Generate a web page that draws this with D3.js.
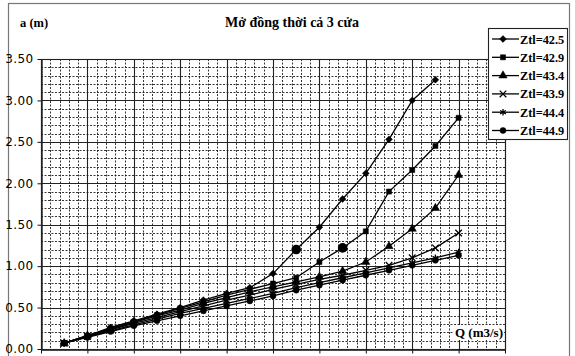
<!DOCTYPE html>
<html>
<head>
<meta charset="utf-8">
<script src="https://cdn.jsdelivr.net/npm/d3@7"></script>
<style>
  html, body { margin: 0; padding: 0; background: #fff; }
  svg { display: block; }
</style>
</head>
<body>
<svg id="chart" width="575" height="356"></svg>
<script>
// ---------------- DATA ----------------
const title = "Mở đồng thời cả 3 cửa";
const yTitle = "a (m)";
const xTitle = "Q (m3/s)";
const categories = [1, 2, 3, 4, 5, 6, 7, 8, 9, 10, 11, 12, 13, 14, 15, 16, 17, 18];
const seriesNames = ["Ztl=42.5", "Ztl=42.9", "Ztl=43.4", "Ztl=43.9", "Ztl=44.4", "Ztl=44.9"];
const ztl425 = [0.07, 0.16, 0.26, 0.34, 0.42, 0.50, 0.59, 0.67, 0.74, 0.91, 1.20, 1.47, 1.81, 2.12, 2.53, 3.00, 3.25];
const ztl429 = [0.07, 0.16, 0.25, 0.33, 0.41, 0.49, 0.57, 0.65, 0.72, 0.79, 0.86, 1.05, 1.22, 1.42, 1.90, 2.16, 2.45, 2.79];
const ztl434 = [0.07, 0.16, 0.24, 0.32, 0.40, 0.47, 0.55, 0.62, 0.69, 0.75, 0.81, 0.87, 0.94, 1.05, 1.24, 1.45, 1.70, 2.10];
const ztl439 = [0.07, 0.15, 0.23, 0.31, 0.38, 0.45, 0.52, 0.59, 0.65, 0.72, 0.78, 0.84, 0.89, 0.95, 1.01, 1.10, 1.22, 1.40];
const ztl444 = [0.07, 0.15, 0.22, 0.29, 0.36, 0.43, 0.49, 0.55, 0.61, 0.67, 0.74, 0.80, 0.86, 0.92, 0.98, 1.04, 1.10, 1.17];
const ztl449 = [0.07, 0.14, 0.21, 0.28, 0.34, 0.40, 0.46, 0.52, 0.58, 0.64, 0.71, 0.77, 0.83, 0.89, 0.95, 1.01, 1.07, 1.13];
const yTicks = [0, 0.5, 1.0, 1.5, 2.0, 2.5, 3.0, 3.5];
const xDomain = [0, 20];

// ---------------- STYLE ----------------
const seriesValues = [ztl425, ztl429, ztl434, ztl439, ztl444, ztl449];
const symbolTypes = [d3.symbolDiamond2, d3.symbolSquare, d3.symbolTriangle, d3.symbolTimes, d3.symbolAsterisk, d3.symbolCircle];
const symbolSizes = [30, 26, 30, 30, 30, 28];
const strokeSymbol = [false, false, false, true, true, false];
// points that appear as enlarged round blobs in the picture (series index, category)
const bigMarkers = [[0, 11], [1, 13]];

const svg = d3.select("#chart");
const W = 575, H = 356;
const plot = { left: 41, right: 505, top: 59, bottom: 349 };

const x = d3.scaleLinear().domain(xDomain).range([plot.left, plot.right]);
const y = d3.scaleLinear().domain([0, 3.5]).range([plot.bottom, plot.top]);

svg.append("rect").attr("width", W).attr("height", H).attr("fill", "#fff");
// outer chart frame
svg.append("rect").attr("x", 8.5).attr("y", 3.5).attr("width", 561).attr("height", 360)
  .attr("fill", "none").attr("stroke", "#777").attr("stroke-width", 1.2);

// plot background
svg.append("rect").attr("x", plot.left).attr("y", plot.top)
  .attr("width", plot.right - plot.left).attr("height", plot.bottom - plot.top).attr("fill", "#fff");

// minor grid
const gMinor = svg.append("g");
const xMinor = d3.range(xDomain[0], xDomain[1] + 0.001, 0.4).filter(v => Math.abs(v / 2 - Math.round(v / 2)) > 0.01);
const yMinor = d3.range(0, 3.5001, 0.1).filter(v => Math.abs(v / 0.5 - Math.round(v / 0.5)) > 0.01);
gMinor.selectAll("line.xm").data(xMinor).join("line")
  .attr("x1", d => Math.round(x(d)) + 0.5).attr("x2", d => Math.round(x(d)) + 0.5)
  .attr("y1", plot.top).attr("y2", plot.bottom)
  .attr("stroke", "#111").attr("stroke-width", 0.85).attr("stroke-dasharray", "2,1.5");
gMinor.selectAll("line.ym").data(yMinor).join("line")
  .attr("y1", d => Math.round(y(d)) + 0.5).attr("y2", d => Math.round(y(d)) + 0.5)
  .attr("x1", plot.left).attr("x2", plot.right)
  .attr("stroke", "#111").attr("stroke-width", 0.85).attr("stroke-dasharray", "2,1.5");

// major grid
const gMajor = svg.append("g");
const xMajor = d3.range(xDomain[0], xDomain[1] + 0.001, 2);
gMajor.selectAll("line.xM").data(xMajor).join("line")
  .attr("x1", d => Math.round(x(d)) + 0.5).attr("x2", d => Math.round(x(d)) + 0.5)
  .attr("y1", plot.top).attr("y2", plot.bottom)
  .attr("stroke", "#222").attr("stroke-width", 1.1);
gMajor.selectAll("line.yM").data(yTicks).join("line")
  .attr("y1", d => Math.round(y(d)) + 0.5).attr("y2", d => Math.round(y(d)) + 0.5)
  .attr("x1", plot.left).attr("x2", plot.right)
  .attr("stroke", "#222").attr("stroke-width", 1.1);

// axes
const yAxis = d3.axisLeft(y).tickValues(yTicks).tickFormat(d3.format(".2f")).tickSizeInner(4).tickSizeOuter(0).tickPadding(5);
const gy = svg.append("g").attr("transform", `translate(${plot.left + 0.5},0)`).call(yAxis);
gy.select(".domain").attr("stroke", "#111").attr("stroke-width", 1.3);
gy.selectAll(".tick line").attr("stroke", "#111");
gy.selectAll(".tick text").attr("font-family", "DejaVu Sans, sans-serif").attr("font-size", 12)
  .attr("fill", "#000").attr("x", -8).attr("letter-spacing", 0.4);

const xAxis = d3.axisBottom(x).tickValues(xMajor).tickFormat("").tickSizeInner(4).tickSizeOuter(0);
const gx = svg.append("g").attr("transform", `translate(0,${plot.bottom + 0.5})`).call(xAxis);
gx.select(".domain").attr("stroke", "#111").attr("stroke-width", 1.3);
gx.selectAll(".tick line").attr("stroke", "#111");

// series
const line = d3.line().x((d, i) => x(categories[i])).y(d => y(d));
const gSeries = svg.append("g");
seriesValues.forEach((vals, s) => {
  gSeries.append("path").datum(vals).attr("d", line)
    .attr("fill", "none").attr("stroke", "#000").attr("stroke-width", 1.3);
});
seriesValues.forEach((vals, s) => {
  const sym = d3.symbol().type(symbolTypes[s]).size(symbolSizes[s]);
  gSeries.append("g").selectAll("path").data(vals).join("path")
    .attr("transform", (d, i) => `translate(${x(categories[i])},${y(d)})`)
    .attr("d", sym())
    .attr("fill", strokeSymbol[s] ? "none" : "#000")
    .attr("stroke", "#000").attr("stroke-width", strokeSymbol[s] ? 1.3 : 0.5);
});
bigMarkers.forEach(([s, cat]) => {
  const i = categories.indexOf(cat);
  gSeries.append("circle").attr("cx", x(cat)).attr("cy", y(seriesValues[s][i])).attr("r", 4.8).attr("fill", "#000");
});

// plot top/right border
svg.append("rect").attr("x", plot.left + 0.5).attr("y", plot.top + 0.5)
  .attr("width", plot.right - plot.left).attr("height", plot.bottom - plot.top)
  .attr("fill", "none").attr("stroke", "#222").attr("stroke-width", 1.1);

// texts
svg.append("text").attr("x", 292).attr("y", 27).attr("text-anchor", "middle")
  .attr("font-family", "Liberation Serif, serif").attr("font-weight", "bold").attr("font-size", 14)
  .attr("fill", "#000").text(title);
svg.append("text").attr("x", 20).attr("y", 27)
  .attr("font-family", "Liberation Serif, serif").attr("font-weight", "bold").attr("font-size", 12.5)
  .attr("fill", "#000").text(yTitle);
const xtBg = svg.append("rect").attr("fill", "#fff");
const xt = svg.append("text").attr("x", 479).attr("y", 337).attr("text-anchor", "middle")
  .attr("font-family", "Liberation Serif, serif").attr("font-weight", "bold").attr("font-size", 13)
  .attr("fill", "#000").text(xTitle);
const bb = xt.node().getBBox();
xtBg.attr("x", bb.x - 1).attr("y", bb.y).attr("width", bb.width + 2).attr("height", bb.height);

// legend
const lg = svg.append("g");
lg.append("rect").attr("x", 488.5).attr("y", 28.5).attr("width", 79).attr("height", 111)
  .attr("fill", "#fff").attr("stroke", "#222").attr("stroke-width", 1.1);
seriesNames.forEach((name, s) => {
  const cy = 39 + s * 18.3;
  lg.append("line").attr("x1", 492).attr("x2", 519).attr("y1", cy).attr("y2", cy)
    .attr("stroke", "#000").attr("stroke-width", 1.3);
  lg.append("path").attr("transform", `translate(503,${cy})`)
    .attr("d", d3.symbol().type(symbolTypes[s]).size(symbolSizes[s])())
    .attr("fill", strokeSymbol[s] ? "none" : "#000").attr("stroke", "#000")
    .attr("stroke-width", strokeSymbol[s] ? 1.3 : 0.5);
  lg.append("text").attr("x", 520).attr("y", cy + 4.5)
    .attr("font-family", "Liberation Serif, serif").attr("font-weight", "bold").attr("font-size", 12.3)
    .attr("fill", "#000").text(name);
});
</script>
</body>
</html>
